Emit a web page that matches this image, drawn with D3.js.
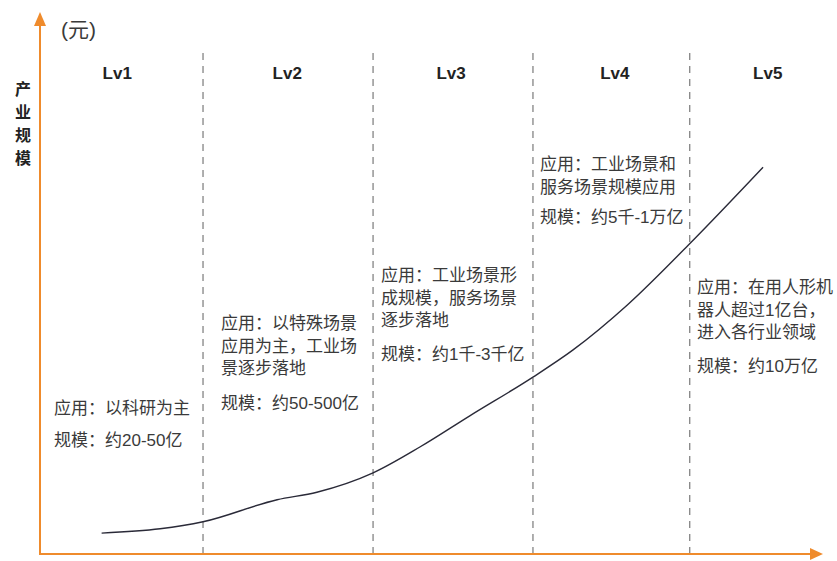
<!DOCTYPE html>
<html>
<head>
<meta charset="utf-8">
<script src="https://cdn.jsdelivr.net/npm/d3@7"></script>
<style>
  html, body { margin: 0; padding: 0; background: #fff; }
  svg { display: block; font-family: "Liberation Sans", Arial, "Noto Sans CJK SC", sans-serif; }
</style>
</head>
<body>
<svg id="chart" width="837" height="561"></svg>
<script>
// Development stages of the humanoid-robot industry
const levels = ["Lv1", "Lv2", "Lv3", "Lv4", "Lv5"];
// stage progress (0–100) where one level ends and the next begins
const levelBounds = [20.9, 42.7, 63.2, 83.3];
// stage progress at which each level heading sits
const levelCenters = [9.9, 31.7, 52.7, 73.7, 93.3];

// industry-scale curve (relative scale, 0–100) against stage progress
const curveX = [7.9, 15.4, 20.9, 30.4, 35.5, 42.7, 48.7, 55.1, 63.2, 68.3, 75.3, 83.1, 92.7];
const curveY = [3.7, 4.5, 5.8, 9.9, 11.3, 14.9, 19.7, 25.5, 32.7, 37.7, 46.1, 57.2, 71.7];

// application / scale notes for each level
const noteApply = [
  ["应用：以科研为主"],
  ["应用：以特殊场景", "应用为主，工业场", "景逐步落地"],
  ["应用：工业场景形", "成规模，服务场景", "逐步落地"],
  ["应用：工业场景和", "服务场景规模应用"],
  ["应用：在用人形机", "器人超过1亿台，", "进入各行业领域"]
];
const noteScale = ["规模：约20-50亿", "规模：约50-500亿", "规模：约1千-3千亿", "规模：约5千-1万亿", "规模：约10万亿"];

const yTitle = "产业规模";
const yUnit = "(元)";

// ---- layout ----
const svg = d3.select("#chart");
const orange = "#EF8B2C";
const ink = "#3a3a3a";
const originX = 40, originY = 554;

const x = d3.scaleLinear().domain([0, 100]).range([originX, 820]);
const y = d3.scaleLinear().domain([0, 100]).range([553, 15]);

// stage dividers
svg.append("g").selectAll("line")
  .data(levelBounds)
  .join("line")
  .attr("x1", d => x(d)).attr("x2", d => x(d))
  .attr("y1", 53).attr("y2", originY)
  .attr("stroke", "#7a7a7a")
  .attr("stroke-width", 1.2)
  .attr("stroke-dasharray", "7,6");

// level headings
svg.append("g").selectAll("text")
  .data(levels)
  .join("text")
  .attr("x", (d, i) => x(levelCenters[i]))
  .attr("y", 79)
  .attr("text-anchor", "middle")
  .attr("font-size", 17)
  .attr("font-weight", "bold")
  .attr("fill", "#222")
  .text(d => d);

// growth curve
const line = d3.line()
  .x(d => x(d[0]))
  .y(d => y(d[1]))
  .curve(d3.curveMonotoneX);
svg.append("path")
  .datum(curveX.map((v, i) => [v, curveY[i]]))
  .attr("d", line)
  .attr("fill", "none")
  .attr("stroke", "#2a2a38")
  .attr("stroke-width", 1.4);

// notes: first line baseline position, gap before the scale line
const noteLayout = [
  { left: 54, top: 414, gap: 32 },
  { left: 221, top: 329, gap: 35 },
  { left: 381, top: 281, gap: 34 },
  { left: 540, top: 170, gap: 30 },
  { left: 697, top: 293, gap: 34 }
];
const lineStep = 22.5;
noteApply.forEach((lines, i) => {
  const L = noteLayout[i];
  const g = svg.append("g").attr("fill", ink).attr("font-size", 17);
  lines.forEach((t, j) => {
    g.append("text").attr("x", L.left).attr("y", L.top + j * lineStep).text(t);
  });
  g.append("text")
    .attr("x", L.left)
    .attr("y", L.top + (lines.length - 1) * lineStep + L.gap)
    .text(noteScale[i]);
});

// axes with arrowheads
svg.append("line")
  .attr("x1", originX).attr("x2", originX)
  .attr("y1", originY).attr("y2", 24)
  .attr("stroke", orange).attr("stroke-width", 2);
svg.append("path")
  .attr("d", `M${originX - 6},26 L${originX},12 L${originX + 6},26 Z`)
  .attr("fill", orange);
svg.append("line")
  .attr("x1", originX - 1).attr("x2", 812)
  .attr("y1", originY).attr("y2", originY)
  .attr("stroke", orange).attr("stroke-width", 2);
svg.append("path")
  .attr("d", `M810,${originY - 6} L823,${originY} L810,${originY + 6} Z`)
  .attr("fill", orange);

// unit label
svg.append("text")
  .attr("x", 61).attr("y", 37)
  .attr("font-size", 21)
  .attr("fill", ink)
  .text(yUnit);

// vertical axis title
svg.append("g").selectAll("text")
  .data(Array.from(yTitle))
  .join("text")
  .attr("x", 23)
  .attr("y", (d, i) => 95 + i * 23)
  .attr("text-anchor", "middle")
  .attr("font-size", 16)
  .attr("font-weight", "bold")
  .attr("fill", "#222")
  .text(d => d);
</script>
</body>
</html>
